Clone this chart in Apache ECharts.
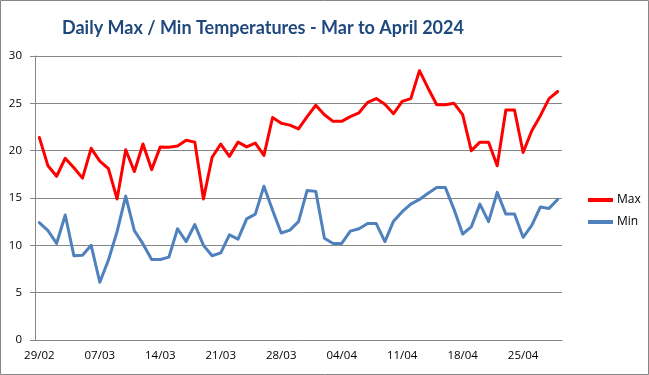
<!DOCTYPE html>
<html>
<head>
<meta charset="utf-8">
<script src="https://cdn.jsdelivr.net/npm/echarts@6/dist/echarts.min.js"></script>
<style>
html,body{margin:0;padding:0;background:#fff;}
#chart{width:649px;height:375px;}
</style>
</head>
<body>
<div id="chart"></div>
<script>
var titleText = "Daily Max / Min Temperatures - Mar to April 2024";
var dates = ["29/02",
 "01/03","02/03","03/03","04/03","05/03","06/03","07/03","08/03","09/03","10/03",
 "11/03","12/03","13/03","14/03","15/03","16/03","17/03","18/03","19/03","20/03",
 "21/03","22/03","23/03","24/03","25/03","26/03","27/03","28/03","29/03","30/03","31/03",
 "01/04","02/04","03/04","04/04","05/04","06/04","07/04","08/04","09/04","10/04",
 "11/04","12/04","13/04","14/04","15/04","16/04","17/04","18/04","19/04","20/04",
 "21/04","22/04","23/04","24/04","25/04","26/04","27/04","28/04","29/04"];
var maxTemps = [21.4, 18.4, 17.3, 19.2, 18.2, 17.1, 20.25, 18.9, 18.1, 14.9,
 20.1, 17.8, 20.7, 18.0, 20.4, 20.35, 20.5, 21.1, 20.9, 14.9,
 19.3, 20.7, 19.4, 20.9, 20.4, 20.8, 19.5, 23.5, 22.9, 22.7,
 22.3, 23.6, 24.8, 23.8, 23.1, 23.1, 23.6, 24.0, 25.1, 25.5,
 24.9, 23.9, 25.2, 25.5, 28.45, 26.6, 24.85, 24.85, 25.0, 23.8,
 20.0, 20.9, 20.9, 18.4, 24.3, 24.3, 19.8, 22.1, 23.7, 25.5, 26.25];
var minTemps = [12.4, 11.55, 10.2, 13.2, 8.9, 8.95, 10.0, 6.1, 8.45, 11.45,
 15.2, 11.55, 10.15, 8.5, 8.5, 8.75, 11.75, 10.4, 12.2, 10.0,
 8.9, 9.2, 11.1, 10.65, 12.8, 13.3, 16.25, 13.7, 11.3, 11.6,
 12.5, 15.8, 15.7, 10.75, 10.2, 10.2, 11.5, 11.75, 12.3, 12.3,
 10.4, 12.55, 13.55, 14.35, 14.85, 15.5, 16.1, 16.1, 13.8, 11.2,
 11.95, 14.35, 12.5, 15.6, 13.3, 13.3, 10.85, 12.1, 14.05, 13.9, 14.85];
var seriesNames = ["Max", "Min"];
var seriesColors = ["#FF0000", "#4F81BD"];

var chart = echarts.init(document.getElementById('chart'), null, {renderer: 'canvas'});
var gridColor = '#868686';
var font = 'Open Sans';
chart.setOption({
  animation: false,
  backgroundColor: '#ffffff',
  title: {
    text: titleText,
    left: 57, top: 14,
    textStyle: {fontFamily: 'Lato', fontWeight: 'bold', fontSize: 18, color: '#1F497D'}
  },
  graphic: [{
    type: 'rect', silent: true,
    shape: {x: 0.5, y: 0.5, width: 648, height: 374},
    style: {fill: 'none', stroke: '#868686', lineWidth: 1}
  }],
  legend: {
    orient: 'vertical', left: 583, top: 189,
    itemWidth: 25, itemHeight: 4, itemGap: 10,
    icon: 'rect',
    textStyle: {fontFamily: font, fontSize: 12, color: '#000', padding: [0,0,0,-1]},
    data: seriesNames
  },
  grid: {left: 35, right: 87, top: 56, bottom: 35, containLabel: false},
  xAxis: {
    type: 'category', data: dates, boundaryGap: true,
    axisLine: {lineStyle: {color: gridColor, width: 1}},
    axisTick: {interval: 6, length: 5, lineStyle: {color: gridColor}},
    axisLabel: {interval: 6, fontFamily: font, fontSize: 11.5, color: '#000', margin: 10},
    splitLine: {show: false}
  },
  yAxis: {
    type: 'value', min: 0, max: 30, interval: 5,
    axisLine: {show: true, lineStyle: {color: gridColor, width: 1}},
    axisTick: {show: true, length: 5, lineStyle: {color: gridColor}},
    axisLabel: {fontFamily: font, fontSize: 11.5, color: '#000', margin: 13},
    splitLine: {lineStyle: {color: gridColor, width: 1}}
  },
  series: [
    {name: seriesNames[0], type: 'line', data: maxTemps, symbol: 'none', smooth: false,
     itemStyle: {color: seriesColors[0]},
     lineStyle: {color: seriesColors[0], width: 3, join: 'round', cap: 'round'}},
    {name: seriesNames[1], type: 'line', data: minTemps, symbol: 'none', smooth: false,
     itemStyle: {color: seriesColors[1]},
     lineStyle: {color: seriesColors[1], width: 3, join: 'round', cap: 'round'}}
  ]
});
</script>
</body>
</html>
